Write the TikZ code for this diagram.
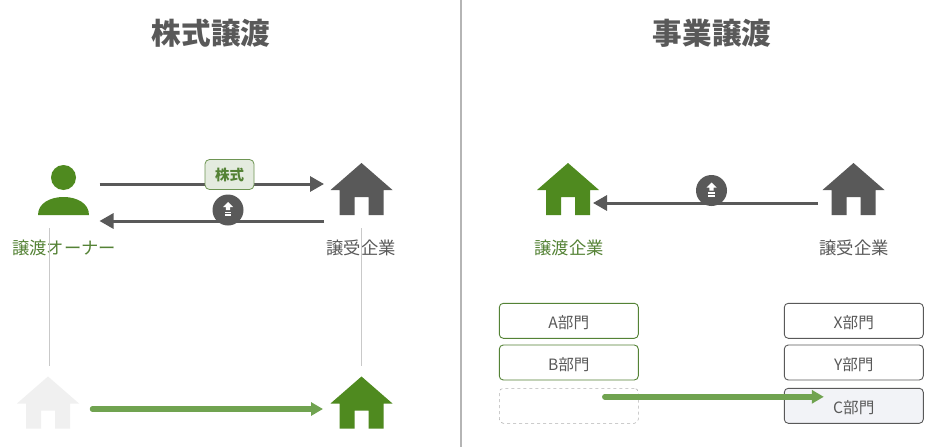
\documentclass[tikz,border=0pt]{standalone}
\usepackage{fontspec}
\setmainfont{Noto Sans CJK JP}
\usetikzlibrary{arrows.meta}
\definecolor{ink}{HTML}{595959}
\definecolor{leaf}{HTML}{4F8A1F}
\definecolor{leaftext}{HTML}{548235}
\definecolor{leafarrow}{HTML}{70A350}
\definecolor{rule}{HTML}{C9C9C9}
\definecolor{cfill}{HTML}{F2F3F7}
\tikzset{
  x=1pt,y=-1pt,
  title/.style={font=\fontsize{29.6}{31}\selectfont\bfseries,text=ink,inner sep=0pt},
  lab/.style={font=\fontsize{17.3}{19}\selectfont,inner sep=0pt},
  iconbox/.style={minimum width=#1,minimum height=52pt,inner sep=0pt,outer sep=0pt},
  dept/.style={draw=#1,rounded corners=4pt,line width=0.9pt,minimum width=139pt,minimum height=35pt,
    inner sep=0pt,font=\fontsize{15.6}{17}\selectfont,text=ink,text height=15pt,text depth=0pt},
  guide/.style={draw=rule,line width=0.9pt},
  flow/.style={draw=ink,line width=3pt,-{Triangle[length=14pt,width=15pt]}},
  move/.style={draw=leafarrow,line width=5.5pt,line cap=round,-{Triangle[length=12pt,width=13pt]}},
  pics/house/.style={code={
    \fill[#1] (0,-26) -- (31,1) -- (22,1) -- (22,26) -- (7,26) -- (7,8) -- (-7,8) -- (-7,26) -- (-22,26) -- (-22,1) -- (-31,1) -- cycle;
  }},
  pics/person/.style={code={
    \fill[#1] (0,-12.5) circle[radius=12.5];
    \fill[#1] (-25.5,25) .. controls (-25.5,13) and (-13,7) .. (0,7) .. controls (13,7) and (25.5,13) .. (25.5,25) -- cycle;
  }},
  pics/cash/.style={code={
    \fill[ink] (0,0) circle[radius=15.5];
    \fill[white] (0,-8) -- (5,-3) -- (2.2,-3) -- (2.2,0) -- (-2.2,0) -- (-2.2,-3) -- (-5,-3) -- cycle;
    \fill[white] (-3.3,1.5) rectangle (3.3,3.2);
    \fill[white] (-3.3,4.4) rectangle (3.3,6.1);
  }},
}
\begin{document}
\begin{tikzpicture}
\useasboundingbox (0,0) rectangle (932,447);
\fill[white] (0,0) rectangle (932,447);
% divider
\coordinate (divtop) at (461,0);
\coordinate (divbot) at (461,447);
\draw[draw=rule!90!black,line width=1.6pt] (divtop) -- (divbot);
% titles
\node[title] (t1) at (211,33) {株式譲渡};
\node[title] (t2) at (712,33) {事業譲渡};
% left icons
\node[iconbox=51pt] (owner) at (63.5,190) {};
\node[iconbox=62pt] (buyerL) at (361.5,189) {};
\node[iconbox=62pt] (oldco) at (48,402.5) {};
\node[iconbox=62pt] (newco) at (361.5,402.5) {};
\pic at (owner) {person={leaf}};
\pic at (buyerL) {house={ink}};
\pic at (oldco) {house={black!6}};
\pic at (newco) {house={leaf}};
% left labels
\node[lab,text=leaftext] (ownerlab) at (64,247.5) {譲渡オーナー};
\node[lab,text=ink] (buyerLlab) at (361,247.5) {譲受企業};
% guides
\coordinate (g1a) at (49,228); \coordinate (g1b) at (49,366);
\coordinate (g2a) at (361.5,228); \coordinate (g2b) at (361.5,366);
\draw[guide] (g1a) -- (g1b);
\draw[guide] (g2a) -- (g2b);
% left arrows
\draw[flow] ([shift={(10.5,-6)}]owner.east) -- ([shift={(-6.5,-5)}]buyerL.west);
\draw[flow] ([shift={(-6.5,32)}]buyerL.west) -- ([shift={(10.5,31)}]owner.east);
\draw[move] ([shift={(13.5,6.5)}]oldco.east) -- ([shift={(-7.5,6.5)}]newco.west);
% badge
\node[draw=leaftext!85!white,fill=leaftext!16!white,rounded corners=4.5pt,line width=0.8pt,
  minimum width=49pt,minimum height=30pt,inner sep=0pt,
  font=\fontsize{14.5}{16}\selectfont\bfseries,text=leaftext] (stock) at (229.5,174.5) {株式};
\pic at (228,210) {cash};
% right icons
\node[iconbox=62pt] (seller) at (568,189) {};
\node[iconbox=62pt] (buyerR) at (853.5,189) {};
\pic at (seller) {house={leaf}};
\pic at (buyerR) {house={ink}};
\node[lab,text=leaftext] (sellerlab) at (569,247.5) {譲渡企業};
\node[lab,text=ink] (buyerRlab) at (854,247.5) {譲受企業};
\draw[flow] ([shift={(-4.5,14)}]buyerR.west) -- ([shift={(-6,14)}]seller.east);
\pic at (711.5,190.5) {cash};
% departments
\node[dept=leaftext] (a) at (568.8,320.8) {A部門};
\node[dept=leaftext] (b) at (568.8,362.5) {B部門};
\node[dept=black!30,dashed,line width=0.6pt] (empty) at (568.8,405.8) {};
\node[dept=ink] (x) at (853.8,320.8) {X部門};
\node[dept=ink] (y) at (853.8,362.5) {Y部門};
\node[dept=ink,fill=cfill] (c) at (853.8,405.8) {C部門};
\draw[move] ([shift={(36,-9)}]empty.center) -- ([shift={(-30,-9)}]c.center);
\end{tikzpicture}
\end{document}
